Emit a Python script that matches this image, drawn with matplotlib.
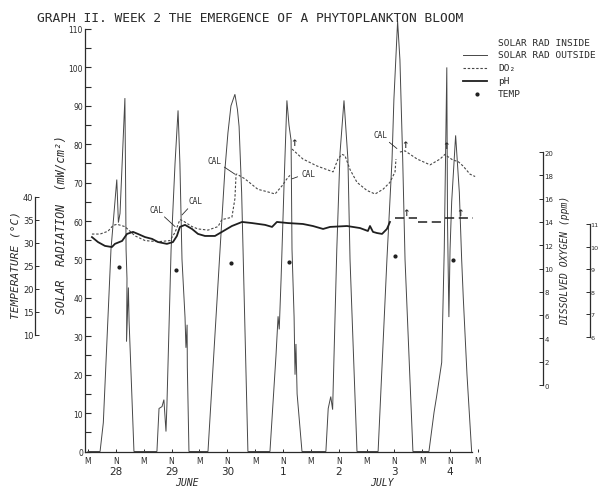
import matplotlib
matplotlib.use("Agg")
import matplotlib.pyplot as plt
from matplotlib.lines import Line2D
import numpy as np

# ---------------------------------------------------------------
# Week 2 record: time in hours from midnight, 28 June
# ---------------------------------------------------------------
solar_hours = [0.0, 5.2, 6.6, 9.9, 12.4, 13.1, 13.8, 15.9, 16.2, 16.4, 16.8, 16.6, 17.4, 17.7, 19.8,
               29.7, 30.6, 31.9, 32.7, 33.6, 34.0, 35.8, 37.5, 38.8, 39.6, 40.5, 41.8, 42.2, 42.7, 42.8, 43.5,
               51.7, 56.9, 59.0, 60.3, 61.6, 63.3, 64.4, 65.1, 66.2, 66.8, 67.9, 68.9,
               78.4, 81.0, 81.9, 82.4, 83.2, 84.5, 85.7, 86.6, 87.5, 87.9, 88.8, 89.2, 89.6, 90.1, 92.2,
               102.5, 103.5, 104.6, 105.4, 107.2, 108.6, 110.3, 112.0, 112.9, 115.9,
               125.0, 128.8, 131.0, 131.8, 133.4, 134.4, 135.6, 136.6, 138.3, 140.0,
               146.9, 149.1, 150.2, 152.4, 153.5, 154.6, 154.9, 155.5, 156.0, 156.7, 158.4, 160.0, 161.0,
               161.7, 163.3, 165.3]
solar_rad = [0, 0, 7.5, 52.6, 70.8, 59.6, 62, 92, 70, 52.6, 45, 28.6, 42.7, 34, 0,
             0, 11.2, 11.7, 13.5, 5.2, 12, 52.6, 75, 88.8, 75, 50, 35, 27, 33, 22, 0,
             0, 52.6, 73.4, 83, 90, 93, 89, 84.6, 67.4, 52.6, 25, 0,
             0, 25, 35.2, 31.8, 45, 70, 91.4, 85, 81, 52.6, 35, 20, 28, 15, 0,
             0, 11.2, 14.3, 10.9, 52.6, 77.8, 91.4, 76, 50, 0,
             0, 50, 76, 91.6, 112, 102, 76, 50, 25, 0,
             0, 10.2, 14.3, 23.2, 52.6, 100, 60, 35, 52.6, 65, 82.3, 67.4, 50,
             40, 20, 0]

# dissolved oxygen (ppm); NaN marks the breaks at each calibration
do_hours = [1.7, 5.2, 8.6, 10.8, 12.5, 15.9, 20.3, 24.6, 30.2, 35.3, 37.5, 39.6, 40.9, 44.8, 47.4,
            51.7, 56.0, 57.7, 62.0, 63.3, 63.8, 64.2, 67.6, 73.2, 77.1, 80.6, 83.6, 85.7, 87.0,
            87.5,
            87.9, 92.6, 98.7, 105.6, 107.7, 109.4, 110.7, 112.9, 115.9, 120.2, 123.7, 127.1, 130.1,
            132.3, 132.7,
            133.5,
            134.4, 136.6, 141.8, 147.4, 151.7, 153.8, 155.1, 157.3, 159.4, 161.6, 164.6, 166.8]
do_ppm = [12.96, 12.96, 13.2, 13.7, 13.8, 13.6, 12.8, 12.4, 12.3, 12.4, 13.1, 14.2, 14.1, 13.6, 13.4,
          13.3, 13.6, 14.2, 14.4, 16.0, 18.1, 18.1, 17.7, 16.8, 16.6, 16.4, 17.1, 17.7, 18.0,
          np.nan,
          20.26, 19.4, 18.8, 18.3, 19.4, 19.8, 19.7, 18.5, 17.4, 16.7, 16.4, 16.8, 17.4,
          18.3, 19.4,
          np.nan,
          20.0, 20.1, 19.4, 18.9, 19.4, 19.8, 19.6, 19.3, 19.2, 18.8, 18.1, 17.9]

# pH, continuous record and the later broken record
ph_hours = [1.7, 4.3, 7.3, 10.3, 11.6, 14.7, 16.8, 19.4, 21.5, 24.6, 27.6, 30.2, 34.0, 36.6, 38.3,
            39.6, 41.8, 44.8, 47.4, 50.4, 54.7, 57.7, 62.0, 66.4, 70.7, 76.3, 79.3, 81.4, 86.2,
            92.6, 96.9, 101.3, 104.3, 111.6, 117.2, 120.6, 121.5, 122.8, 124.5, 126.7, 128.8, 130.1]
ph = [10.42, 10.20, 10.03, 9.98, 10.12, 10.25, 10.56, 10.65, 10.56, 10.42, 10.34, 10.20, 10.12, 10.20, 10.47,
      10.87, 10.96, 10.78, 10.56, 10.47, 10.47, 10.65, 10.91, 11.09, 11.04, 10.96, 10.87, 11.09, 11.04,
      11.0, 10.91, 10.78, 10.87, 10.91, 10.82, 10.69, 10.91, 10.65, 10.60, 10.56, 10.78, 11.09]
ph_late_hours = [132.3, 141.8, np.nan, 142.2, 152.5, np.nan, 153.8, 165.9]
ph_late = [11.27, 11.27, np.nan, 11.07, 11.07, np.nan, 11.27, 11.27]

# water temperature (deg C)
temp_hours = [13.3, 37.9, 61.6, 86.6, 132.3, 157.3]
temp_c = [24.8, 24.1, 25.7, 25.9, 27.2, 26.3]

tick_hours = list(range(0, 169, 12))
tick_labels = ["M" if h % 24 == 0 else "N" for h in tick_hours]
day_labels = ["28", "29", "30", "1", "2", "3", "4"]
month_labels = ["JUNE", "JULY"]

# ---------------------------------------------------------------
INK = "#2b2b2b"
LINE = "#474747"
MONO = "DejaVu Sans Mono"
W, H = 599, 489


def rect(l, t, r, b):
    return [l / W, 1 - b / H, (r - l) / W, (b - t) / H]


fig = plt.figure(figsize=(W / 100, H / 100), dpi=100)
fig.patch.set_facecolor("white")
ax = fig.add_axes(rect(85, 15, 545, 460))
ax.patch.set_visible(False)
ax.set_xlim(-1.293, 196.91)
ax.set_ylim(-1.95, 113.9)

for s in ("top", "right"):
    ax.spines[s].set_visible(False)
ax.spines["left"].set_bounds(0, 110)
ax.spines["left"].set_color(INK)
ax.spines["left"].set_linewidth(0.9)
ax.spines["bottom"].set_position(("data", 0))
ax.spines["bottom"].set_bounds(-1.293, 165.4)
ax.spines["bottom"].set_color(INK)
ax.spines["bottom"].set_linewidth(0.9)

ax.set_yticks(range(0, 111, 10))
ax.set_yticks(range(5, 110, 10), minor=True)
ax.tick_params(axis="y", which="both", direction="in", length=4, width=0.8,
               color=INK, labelcolor=INK, labelsize=5.5, pad=1.5)
ax.set_xticks(tick_hours)
ax.set_xticklabels(tick_labels)
ax.tick_params(axis="x", direction="in", length=2.5, width=0.7, color=INK,
               labelcolor=INK, labelsize=5.5, pad=3)

# solar radiation trace
ax.plot(solar_hours, solar_rad, color=LINE, lw=0.7, solid_joinstyle="miter")

for i, lab in enumerate(day_labels):
    ax.annotate(lab, xy=(12 + 24 * i, 0), xytext=(0, -14), textcoords="offset points",
                ha="center", va="center", fontsize=7.5, color=INK)
for h, lab in zip((42.7, 126.7), month_labels):
    ax.annotate(lab, xy=(h, 0), xytext=(0, -22), textcoords="offset points",
                ha="center", va="center", fontsize=7, color=INK, family=MONO, style="italic")


def side_axis(ylim, pos, bounds, ticks, side, labelsize, pad=1):
    a = ax.twinx()
    a.set_ylim(*ylim)
    for s in ("top", "bottom", "left", "right"):
        a.spines[s].set_visible(False)
    a.spines[side].set_visible(True)
    a.spines[side].set_position(("axes", pos))
    a.spines[side].set_bounds(*bounds)
    a.spines[side].set_color(INK)
    a.spines[side].set_linewidth(0.9)
    if side == "left":
        a.yaxis.set_ticks_position("left")
        a.yaxis.set_label_position("left")
    a.set_yticks(ticks)
    a.tick_params(axis="y", direction="in", length=3, width=0.7, color=INK,
                  labelcolor=INK, labelsize=labelsize, pad=pad)
    return a


ax_do = side_axis((-6.35, 31.85), (543 - 85) / 460, (0, 20), range(0, 21, 2), "right", 5)
ax_ph = side_axis((0.602, 20.29), (590 - 85) / 460, (6, 11), range(6, 12), "right", 4.6, pad=0.4)
ax_t = side_axis((-16.96, 79.78), (35 - 85) / 460, (10, 40), range(10, 41, 5), "left", 6)

ax_do.plot(do_hours, do_ppm, color=LINE, lw=0.8, ls=(0, (2.2, 1.6)))
ax_ph.plot(ph_hours, ph, color="#1f1f1f", lw=1.3)
ax_ph.plot(ph_late_hours, ph_late, color="#1f1f1f", lw=1.1, ls=(0, (6, 3)))
ax_t.plot(temp_hours, temp_c, ls="none", marker="o", ms=2.0, color="#1f1f1f")

# calibration notes and marker arrows on the oxygen record
cal_notes = [((29.3, 15.1), (37.5, 13.6)), ((46.1, 15.8), (40.5, 14.6)),
             ((54.3, 19.3), (63.3, 18.1)), ((94.8, 18.2), (87.9, 17.7)),
             ((125.8, 21.5), (133.1, 20.3))]
for (tx, ty), (px, py) in cal_notes:
    ax_do.annotate("CAL", xy=(px, py), xytext=(tx, ty), ha="center", va="center",
                   fontsize=5.6, color=INK, family=MONO,
                   arrowprops=dict(arrowstyle="-", color=INK, lw=0.6, shrinkA=0.5, shrinkB=0))
for px, py in [(88.8, 20.86), (136.6, 20.69), (154.3, 20.6), (137.0, 14.85), (160.3, 14.85)]:
    ax_do.text(px, py, "\u2191", ha="center", va="center", fontsize=6.5, color=INK,
               fontweight="bold")

# titles and axis captions
fig.text(37 / W, 1 - 18 / H, "GRAPH II. WEEK 2 THE EMERGENCE OF A PHYTOPLANKTON BLOOM",
         ha="left", va="center", family=MONO, fontsize=9.3, color=INK)
fig.text(15.5 / W, 1 - 265 / H, "TEMPERATURE (\u00b0C)", rotation=90, ha="center", va="center",
         family=MONO, style="italic", fontsize=8, color=INK)
fig.text(61 / W, 1 - 225 / H, "SOLAR  RADIATION  (mW/cm\u00b2)", rotation=90, ha="center",
         va="center", family=MONO, style="italic", fontsize=8.3, color=INK)
fig.text(565 / W, 1 - 260 / H, "DISSOLVED OXYGEN (ppm)", rotation=90, ha="center", va="center",
         family=MONO, style="italic", fontsize=7, color=INK)

# key
key = [("SOLAR RAD INSIDE", None), ("SOLAR RAD OUTSIDE", dict(color=LINE, lw=0.7)),
       ("DO\u2082", dict(color=LINE, lw=0.8, ls=(0, (2.2, 1.6)))),
       ("pH", dict(color="#1f1f1f", lw=1.3)), ("TEMP", "dot")]
for i, (lab, sty) in enumerate(key):
    y = 1 - (43 + 12.9 * i) / H
    if isinstance(sty, dict):
        fig.add_artist(Line2D([463 / W, 487 / W], [y, y], transform=fig.transFigure, **sty))
    elif sty == "dot":
        fig.add_artist(Line2D([477 / W], [y], transform=fig.transFigure, ls="none",
                              marker="o", ms=2.0, color="#1f1f1f"))
    fig.text(498 / W, y, lab, ha="left", va="center", family=MONO, fontsize=6.8, color=INK)

fig.savefig("out.png", dpi=100, facecolor="white")
